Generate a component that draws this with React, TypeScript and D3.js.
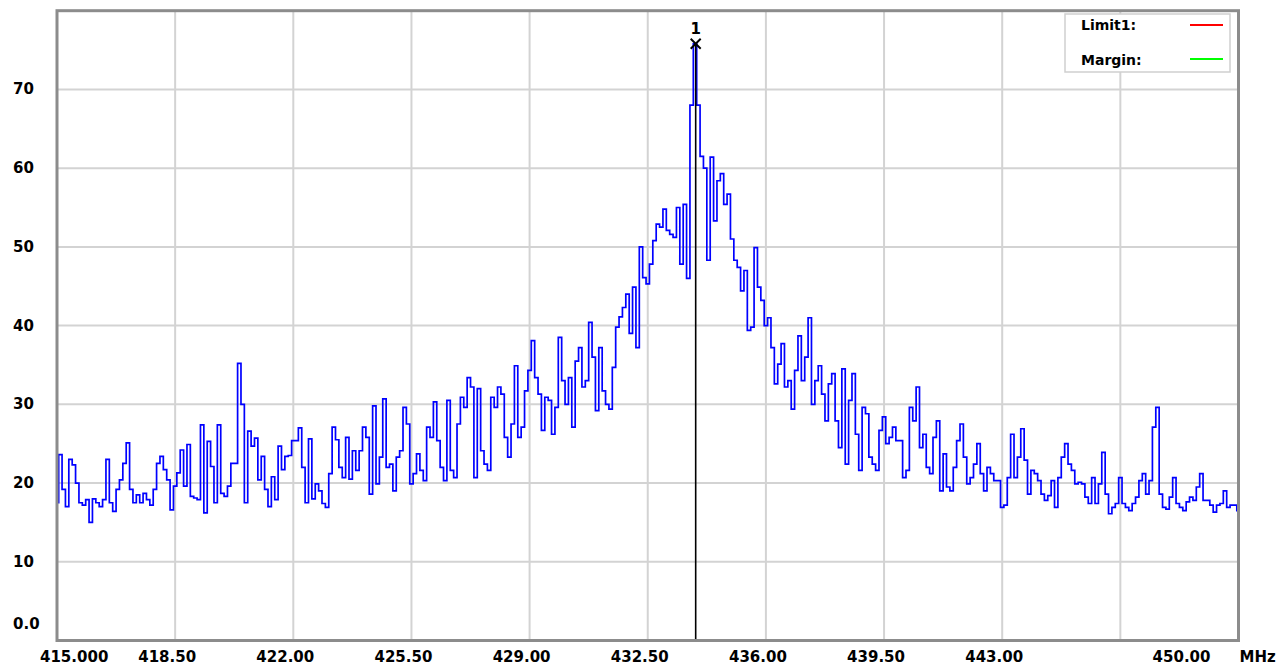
import { line, curveStep, scaleLinear, range } from "d3";

// sweep settings (MHz)
const sweepStart = 415;
const sweepStop = 450;
const sweepStep = 0.1;

// trace level, one reading per 0.1 MHz from 415.0 to 450.0
const traceLevels = [
  17.5, 23.6, 19.2, 17, 23, 22.3, 20, 17.5, 17.2, 17.9,
  15, 18, 17.5, 17, 17.9, 23, 17.5, 16.4, 19.2, 20.4,
  22.5, 25.1, 19.2, 17.5, 18.5, 17.5, 18.7, 17.9, 17.2, 19.2,
  22.5, 23.4, 21.7, 20.4, 16.6, 19.6, 21.3, 24.2, 19.6, 24.9,
  18.3, 18.1, 17.9, 27.4, 16.2, 25.3, 22.1, 17.5, 27.4, 18.7,
  18.3, 19.6, 22.5, 22.5, 35.2, 30, 17.5, 26.6, 24.7, 25.7,
  20.4, 23.4, 19.2, 17, 20.8, 17.9, 24.7, 21.7, 23.4, 23.5,
  25.4, 25.4, 27, 22, 17.5, 25.6, 18, 19.9, 19, 17.4,
  16.9, 21.2, 27.1, 25.5, 22, 20.7, 25.8, 20.5, 24.1, 21.6,
  24.1, 27.1, 25.8, 18.6, 29.8, 19.9, 23.3, 30.7, 22, 22.4,
  19, 23.3, 24.1, 29.6, 27.5, 19.9, 21.2, 23.7, 21.6, 20.3,
  27.1, 25.8, 30.3, 25.4, 22, 20.3, 30.5, 21.6, 20.7, 27.5,
  30.9, 29.6, 33.4, 32.2, 20.7, 32, 24.1, 22.4, 21.6, 30.9,
  29.6, 32.2, 31.3, 25.8, 23.3, 27.5, 34.9, 25.8, 27.1, 31.7,
  34.3, 38.1, 33.4, 31.3, 26.7, 30.9, 30.5, 26.2, 29.6, 38.5,
  33, 30, 33.4, 27.1, 35.5, 37.2, 32.2, 33, 40.4, 36,
  29.2, 37.2, 31.7, 30, 29.4, 34.7, 39.8, 41.1, 42.3, 44,
  39, 44.9, 37.2, 50, 46.1, 45.3, 47.8, 50.8, 52.9, 52.5,
  54.8, 52.1, 51.6, 51.2, 55, 47.8, 55.4, 46, 68, 75.8,
  68, 61.5, 60, 48.3, 61.4, 53.3, 58.4, 59.3, 55.4, 56.7,
  51, 48.3, 47.4, 44.4, 47, 39.4, 39.8, 49.9, 44.9, 43.2,
  40, 41, 37.2, 32.6, 35.1, 37.7, 32.2, 33, 29.4, 34.3,
  38.7, 33, 36, 41, 30, 33, 34.9, 31.3, 27.9, 32.6,
  33.9, 27.9, 24.5, 34.5, 22.4, 30.5, 33.9, 26.2, 21.6, 29.6,
  28.8, 23.3, 22.4, 21.6, 26.7, 28.4, 25, 25.8, 27.1, 25.4,
  25.4, 20.7, 21.6, 29.6, 27.9, 32.2, 24.5, 26.2, 22, 21.2,
  25.8, 27.9, 19, 23.7, 19.5, 19, 22, 25.4, 27.5, 23.3,
  19.9, 20.7, 22.4, 25, 21.2, 19, 22, 21.2, 20.3, 20.3,
  16.9, 17.2, 20.7, 26.2, 20.7, 23.3, 26.9, 22.9, 18.6, 21.6,
  21.2, 20.3, 18.6, 17.8, 18.4, 20.3, 16.9, 20.7, 23.3, 25,
  22.4, 21.6, 19.9, 20.1, 19.9, 18.2, 17.4, 20.7, 17.4, 19.9,
  23.9, 18.6, 16.1, 16.9, 17.4, 20.7, 17.4, 16.9, 16.5, 17.4,
  18.2, 20.3, 21.2, 18.6, 20.3, 27.1, 29.6, 18.6, 16.9, 16.7,
  18.2, 20.7, 17.4, 16.9, 16.5, 17.6, 18.2, 17.8, 19.5, 21.2,
  17.8, 17.8, 17.2, 16.3, 17.2, 17.4, 19, 16.9, 17.2, 17.2,
  16.5,
];

const xTicks = [415, 418.5, 422, 425.5, 429, 432.5, 436, 439.5, 443, 446.5, 450];
const xTickLabels = ["415.000", "418.50", "422.00", "425.50", "429.00", "432.50", "436.00", "439.50", "443.00", "", "450.00"];
const yTicks = [0, 10, 20, 30, 40, 50, 60, 70];
const yTickLabels = ["0.0", "10", "20", "30", "40", "50", "60", "70"];

const markerFreq = 433.92;
const markerLevel = 75.8;
const markerName = "1";

const legendItems = ["Limit1:", "Margin:"];
const legendColors = ["#ff0000", "#00ff00"];

const FONT = "'DejaVu Sans', Verdana, sans-serif";

export default function App() {
  const width = 1279;
  const height = 666;
  const plot = { left: 57, right: 1238.5, top: 10.7, bottom: 640.5 };

  const x = scaleLinear().domain([sweepStart, sweepStop]).range([plot.left, plot.right]);
  const y = scaleLinear().domain([0, 80]).range([plot.bottom, plot.top]);

  const points = range(traceLevels.length).map((i) => ({
    f: sweepStart + i * sweepStep,
    v: traceLevels[i],
  }));
  const path = line<{ f: number; v: number }>()
    .x((d) => x(d.f))
    .y((d) => y(d.v))
    .curve(curveStep)(points);

  const mx = x(markerFreq);
  const my = y(markerLevel);

  return (
    <svg
      width={width}
      height={height}
      style={{ position: "absolute", left: 0, top: 0, background: "#fff" }}
    >
      <defs>
        <clipPath id="plotClip">
          <rect x={plot.left} y={plot.top} width={plot.right - plot.left} height={plot.bottom - plot.top} />
        </clipPath>
      </defs>

      {/* grid */}
      <g stroke="#d3d3d3" strokeWidth={2}>
        {xTicks.map((t) => (
          <line key={`gx-${t}`} x1={x(t)} x2={x(t)} y1={plot.top} y2={plot.bottom} />
        ))}
        {yTicks.map((t) => (
          <line key={`gy-${t}`} x1={plot.left} x2={plot.right} y1={y(t)} y2={y(t)} />
        ))}
      </g>

      <g clipPath="url(#plotClip)">
        <path d={path ?? ""} fill="none" stroke="#0000ff" strokeWidth={1.7} />
      </g>

      {/* marker */}
      <line x1={mx} x2={mx} y1={my} y2={plot.bottom} stroke="#000" strokeWidth={1.6} />
      <g stroke="#000" strokeWidth={2}>
        <line x1={mx - 5} x2={mx + 5} y1={my - 5} y2={my + 5} />
        <line x1={mx - 5} x2={mx + 5} y1={my + 5} y2={my - 5} />
      </g>
      <text x={mx} y={my - 10} textAnchor="middle" fontFamily={FONT} fontWeight="bold" fontSize={15}>
        {markerName}
      </text>

      {/* frame */}
      <rect
        x={plot.left}
        y={plot.top}
        width={plot.right - plot.left}
        height={plot.bottom - plot.top}
        fill="none"
        stroke="#8c8c8c"
        strokeWidth={3}
      />

      {/* legend */}
      <rect x={1065} y={14} width={165} height={58} fill="#fff" stroke="#cfcfcf" strokeWidth={1.5} />
      {legendItems.map((name, i) => (
        <g key={name}>
          <text x={1081} y={30 + i * 35} fontFamily={FONT} fontWeight="bold" fontSize={14}>
            {name}
          </text>
          <line x1={1190} x2={1223} y1={25 + i * 34} y2={25 + i * 34} stroke={legendColors[i]} strokeWidth={2} />
        </g>
      ))}

      {/* y labels */}
      {yTicks.map((t, i) => (
        <text
          key={`yl-${t}`}
          x={13}
          y={(t === 0 ? y(t) - 17 : y(t)) + 5}
          fontFamily={FONT}
          fontWeight="bold"
          fontSize={15}
        >
          {yTickLabels[i]}
        </text>
      ))}

      {/* x labels */}
      {xTicks.map((t, i) => {
        const label = xTickLabels[i];
        if (!label) return null;
        let anchor = "middle";
        let lx = x(t) - 8;
        if (i === 0) {
          anchor = "start";
          lx = x(t) - 17;
        } else if (i === xTicks.length - 1) {
          anchor = "end";
          lx = x(t) - 28;
        }
        return (
          <text key={`xl-${t}`} x={lx} y={662} textAnchor={anchor} fontFamily={FONT} fontWeight="bold" fontSize={15}>
            {label}
          </text>
        );
      })}
      <text x={plot.right + 1} y={662} fontFamily={FONT} fontWeight="bold" fontSize={15}>
        MHz
      </text>
    </svg>
  );
}
